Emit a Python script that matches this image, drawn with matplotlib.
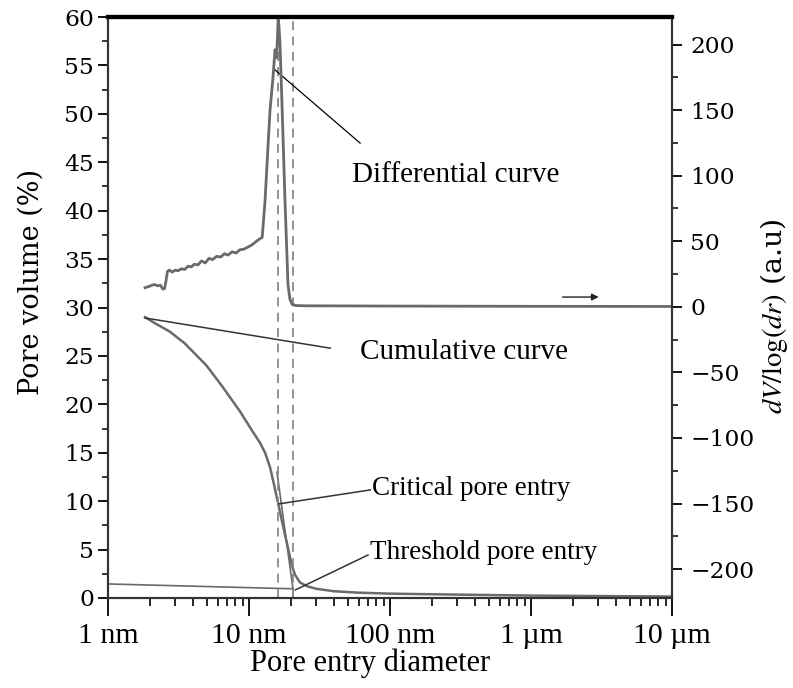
import matplotlib
matplotlib.use("Agg")
import matplotlib.pyplot as plt
from matplotlib.ticker import MultipleLocator, FixedLocator, LogLocator, NullFormatter

plt.rcParams['font.family'] = ['Liberation Serif', 'DejaVu Serif']
plt.rcParams['mathtext.fontset'] = 'stix'

# cumulative curve: pore entry diameter (nm) vs pore volume (%)
cum_d = [1.83, 2.2, 2.75, 3.5, 5.0, 6.5, 8.6, 10.5, 12.0, 13.0, 14.1, 15.0, 15.8,
         17.1, 18.6, 20.2, 21.2, 23, 26, 30, 40, 60, 100, 300, 1000, 3000, 10000]
cum_v = [29.0, 28.3, 27.5, 26.3, 24.0, 21.8, 19.3, 17.3, 16.0, 15.0, 13.5, 11.8, 10.3,
         8.0, 5.6, 3.3, 2.4, 1.6, 1.2, 0.95, 0.7, 0.55, 0.45, 0.35, 0.25, 0.2, 0.15]

# differential curve: dV/log(dr) (a.u)
diff_d = [1.83, 1.95, 2.05, 2.15, 2.25, 2.35, 2.45, 2.52, 2.58, 2.64, 2.72, 2.85, 3.0,
          3.15, 3.3, 3.5, 3.7, 3.9, 4.1, 4.35, 4.6, 4.9, 5.2, 5.5, 5.9, 6.3, 6.7, 7.1,
          7.6, 8.1, 8.6, 9.2, 9.8, 10.4, 11.0, 11.6, 12.4, 13.0, 13.6, 14.1, 14.8, 15.3,
          15.7, 16.1, 16.3, 16.6, 17.1, 18.0, 18.9, 19.5, 20.2, 21.5, 25, 100, 1000, 10000]
diff_v = [14.6, 15.5, 16.5, 17, 16, 16.5, 13.5, 14, 20, 27, 28, 26.5, 28,
          27.5, 29, 28.5, 31, 30.5, 32.5, 32, 35, 33.5, 37, 36, 38.5, 38, 40.5, 39.5,
          42, 41, 43.5, 44, 45.5, 47, 49, 51, 53, 81, 120, 150, 175, 196,
          190, 219, 215, 200, 158, 81, 17, 6, 2, 1, 0.8, 0.6, 0.4, 0.3]

# critical / threshold pore entry (nm) and tangent construction
critical_d = 16.1
threshold_d = 20.5
base_line_d = [1, threshold_d]
base_line_v = [1.45, 0.95]
steep_line_d = [15.8, threshold_d]
steep_line_v = [13.0, 0.95]

x_ticks = [1, 10, 100, 1000, 10000]
x_labels = ['1 nm', '10 nm', '100 nm', '1 µm', '10 µm']

fig = plt.figure(figsize=(7.93, 6.88), dpi=100)
ax = fig.add_axes([108/793, 1-598/688, 564/793, 581/688])
ax2 = ax.twinx()

curve_col = '#6a6a6a'
ax.plot(cum_d, cum_v, color=curve_col, lw=1.8)
ax.plot(base_line_d, base_line_v, color=curve_col, lw=1.2)
ax.plot(steep_line_d, steep_line_v, color=curve_col, lw=1.2)
ax.plot([threshold_d, threshold_d], [0, base_line_v[1]], color=curve_col, lw=1.2)
for d in (critical_d, threshold_d):
    ax.axvline(d, color='#8a8a8a', lw=1.3, ls=(0, (5, 3.5)))

ax2.plot(diff_d, diff_v, color=curve_col, lw=2)

ax.set_xscale('log')
ax.set_xlim(1, 10000)
ax.set_ylim(0, 60)
ax2.set_ylim(-222, 221)

ax.xaxis.set_major_locator(FixedLocator(x_ticks))
ax.set_xticklabels(x_labels)
ax.xaxis.set_minor_locator(LogLocator(base=10, subs=range(2, 10)))
ax.xaxis.set_minor_formatter(NullFormatter())
ax.yaxis.set_major_locator(MultipleLocator(5))
ax.yaxis.set_minor_locator(MultipleLocator(2.5))
ax2.yaxis.set_major_locator(MultipleLocator(50))
ax2.yaxis.set_minor_locator(MultipleLocator(25))

ax.tick_params(axis='x', which='major', length=13, width=1.3, labelsize=21.5, pad=5)
ax.tick_params(axis='x', which='minor', length=6, width=1.2)
ax.tick_params(axis='y', which='major', length=7, width=1.3, pad=3)
ax.tick_params(axis='y', which='minor', length=4, width=1.1)
ax2.tick_params(axis='y', which='major', length=7, width=1.3, pad=6)
ax2.tick_params(axis='y', which='minor', length=4, width=1.1)
for lab in ax.get_yticklabels() + ax2.get_yticklabels():
    lab.set_family('DejaVu Serif')
    lab.set_fontsize(16.8)

for a in (ax, ax2):
    for s in ('left', 'right', 'bottom'):
        a.spines[s].set_color('#333333')
        a.spines[s].set_linewidth(1.5)
    a.spines['top'].set_color('black')
    a.spines['top'].set_linewidth(3)

ax.set_xlabel('Pore entry diameter', fontsize=22, labelpad=0)
ax.xaxis.label.set_x(0.4645)
ax.set_ylabel('Pore volume (%)', fontsize=19.5, family='DejaVu Serif', labelpad=14)
ax.yaxis.label.set_y(0.544)
ax2.set_ylabel(r'$dV/\log(dr)$ (a.u)', fontsize=20.5, family='DejaVu Serif', labelpad=3)
ax2.yaxis.label.set_y(0.485)

# annotations (axes fraction)
tf = ax.transAxes
ax.plot([0.296, 0.447], [0.909, 0.783], color='black', lw=0.9, transform=tf)
ax.text(0.433, 0.728, 'Differential curve', fontsize=21, va='center', transform=tf)
ax.plot([0.0656, 0.394], [0.482, 0.430], color='#333333', lw=1.1, transform=tf)
ax.text(0.447, 0.423, 'Cumulative curve', fontsize=21, va='center', transform=tf)
ax.plot([0.303, 0.465], [0.162, 0.186], color='#333333', lw=1.1, transform=tf)
ax.text(0.468, 0.189, 'Critical pore entry', fontsize=19.5, va='center', transform=tf)
ax.plot([0.332, 0.461], [0.0138, 0.074], color='#333333', lw=1.1, transform=tf)
ax.text(0.465, 0.0775, 'Threshold pore entry', fontsize=19.5, va='center', transform=tf)
ax.annotate('', xy=(0.875, 0.518), xytext=(0.801, 0.518), xycoords=tf,
            arrowprops=dict(arrowstyle='-|>', color='#222222', lw=1, mutation_scale=10))

fig.savefig('out.png', dpi=100)
